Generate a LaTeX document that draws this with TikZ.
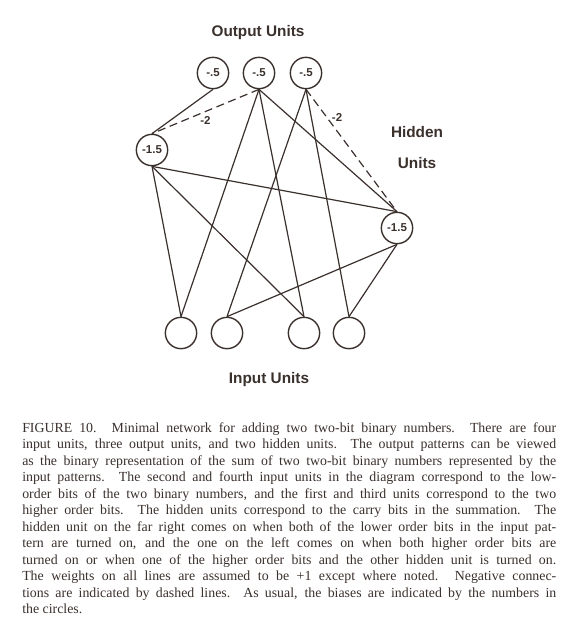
\documentclass[tikz,border=0pt]{standalone}
\usepackage{fontspec}
\setmainfont{Liberation Serif}
\newfontfamily\unitfont{Liberation Sans}
\usepackage{tikz}
\usetikzlibrary{positioning}
\definecolor{inkcolor}{RGB}{58,48,44}
\tikzset{unit/.style={circle,draw=inkcolor,line width=1.05pt,minimum size=23.5pt,inner sep=0pt,text=inkcolor,font=\unitfont\bfseries\fontsize{8.6}{9}\selectfont}}
\tikzset{conn/.style={draw=inkcolor,line width=0.9pt},
  negconn/.style={conn,dash pattern=on 6pt off 3.5pt},
  weight/.style={text=inkcolor,font=\unitfont\bfseries\fontsize{8.6}{9}\selectfont},
  layerlabel/.style={text=inkcolor,font=\unitfont\bfseries\fontsize{11.5}{13}\selectfont},
  caption/.style={text=inkcolor,anchor=north west,inner sep=0pt,text width=400.5pt,align=justify,font=\fontsize{10.4}{12.4}\selectfont}
}

\begin{document}
\begin{tikzpicture}[x=0.75pt,y=-0.75pt]
	\useasboundingbox (0,0) rectangle (580,637);
	\node[layerlabel] (outlabel) at (258,33) {Output Units};
	\node[unit] (o1) at (213,73) {-.5};
	\node[unit] (o2) at (259,73) {-.5};
	\node[unit] (o3) at (306,73) {-.5};
	\node[unit] (h1) at (152,150) {-1.5};
	\node[unit] (h2) at (397,228) {-1.5};
	\node[unit] (i1) at (181,333) {};
	\node[unit] (i2) at (227,333) {};
	\node[unit] (i3) at (304,333) {};
	\node[unit] (i4) at (349,333) {};
	\node[layerlabel] (hidlabel) at (417,132) {Hidden};
	\node[layerlabel] (hidlabelb) at (417,163) {Units};
	\node[layerlabel] (inlabel) at (269,380) {Input Units};
	\draw[conn] (o1.south) -- (h1.north);
	\draw[negconn] (o2.south) -- node[weight,below] {-2} (h1.north);
	\draw[conn] (o2.south) -- (h2.north);
	\draw[conn] (o2.south) -- (i1.north);
	\draw[conn] (o2.south) -- (i3.north);
	\draw[negconn] (o3.south) -- node[weight,right,pos=0.23] {-2} (h2.north);
	\draw[conn] (o3.south) -- (i2.north);
	\draw[conn] (o3.south) -- (i4.north);
	\draw[conn] (h1.south) -- (h2.north);
	\draw[conn] (h1.south) -- (i1.north);
	\draw[conn] (h1.south) -- (i3.north);
	\draw[conn] (h2.south) -- (i2.north);
	\draw[conn] (h2.south) -- (i4.north);
	\node[caption] (cap) at (22,422) {FIGURE 10. Minimal network for adding two two-bit binary numbers. There are four\linebreak
	input units, three output units, and two hidden units. The output patterns can be viewed\linebreak
	as the binary representation of the sum of two two-bit binary numbers represented by the\linebreak
	input patterns. The second and fourth input units in the diagram correspond to the low-\linebreak
	order bits of the two binary numbers, and the first and third units correspond to the two\linebreak
	higher order bits. The hidden units correspond to the carry bits in the summation. The\linebreak
	hidden unit on the far right comes on when both of the lower order bits in the input pat-\linebreak
	tern are turned on, and the one on the left comes on when both higher order bits are\linebreak
	turned on or when one of the higher order bits and the other hidden unit is turned on.\linebreak
	The weights on all lines are assumed to be +1 except where noted. Negative connec-\linebreak
	tions are indicated by dashed lines. As usual, the biases are indicated by the numbers in\linebreak
	the circles.};
\end{tikzpicture}
\end{document}
